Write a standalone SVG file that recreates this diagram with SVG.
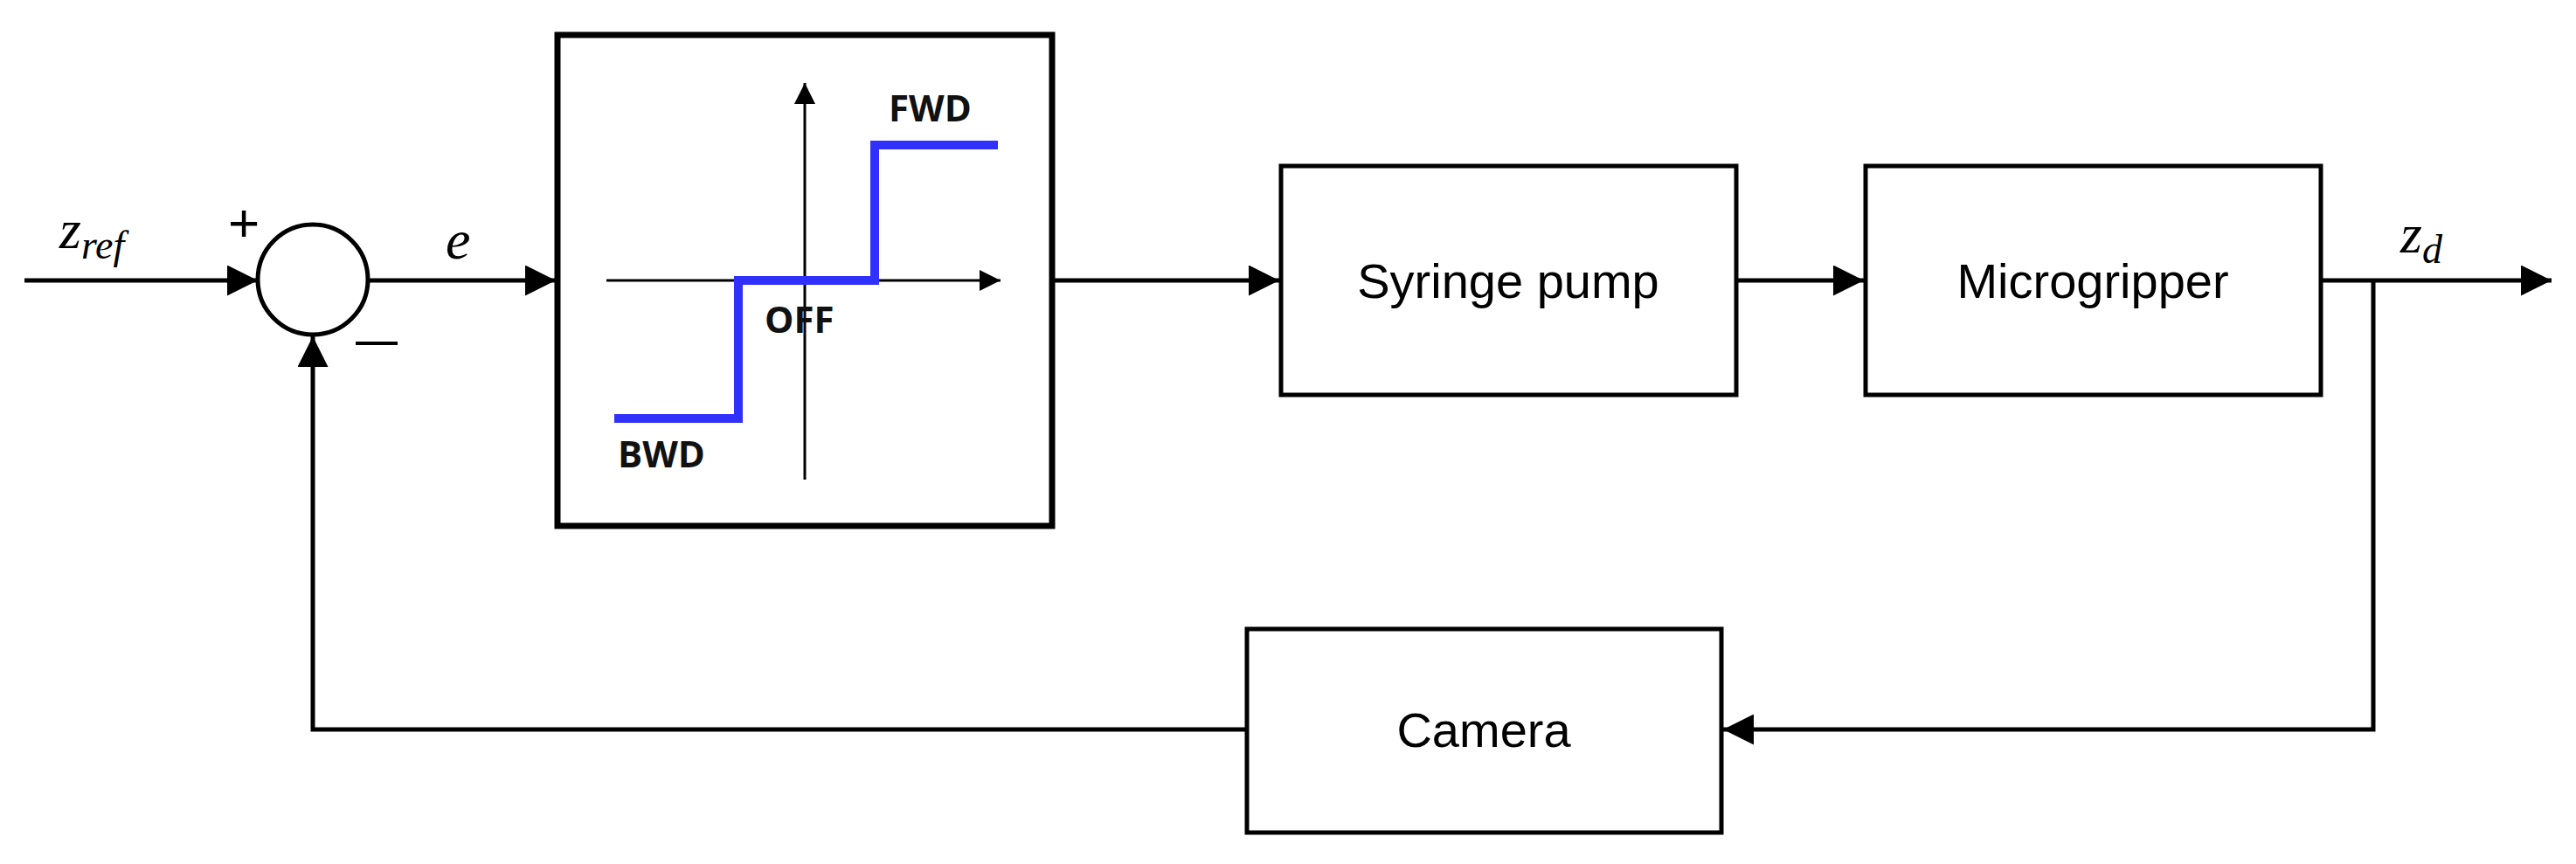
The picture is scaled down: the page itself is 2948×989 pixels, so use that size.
<svg xmlns="http://www.w3.org/2000/svg" width="2948" height="989" viewBox="0 0 2948 989">
<style>
.box{fill:#fff;stroke:#000;stroke-width:5}
.ln{fill:none;stroke:#000;stroke-width:5}
.thin{fill:none;stroke:#000;stroke-width:3}
.lbl{font-family:"Liberation Sans",Arial,sans-serif;font-size:56px;fill:#000;text-anchor:middle}
.b{font-family:"Open Sans","Liberation Sans",sans-serif;font-weight:bold;font-size:42px;fill:#111}
.m{font-family:"Liberation Serif",serif;font-style:italic;fill:#000}
</style>
<defs>
<marker id="ah" viewBox="0 0 10 10" refX="10" refY="5" markerWidth="7" markerHeight="7" markerUnits="strokeWidth" orient="auto"><path d="M0,0L10,5L0,10z" fill="#000"/></marker>
<marker id="as" viewBox="0 0 10 10" refX="10" refY="5" markerWidth="8" markerHeight="8" markerUnits="strokeWidth" orient="auto"><path d="M0,0L10,5L0,10z" fill="#000"/></marker>
</defs>
<g id="connectors">
<line class="ln" x1="28" y1="321" x2="295" y2="321" marker-end="url(#ah)"/>
<line class="ln" x1="421" y1="321" x2="636" y2="321" marker-end="url(#ah)"/>
<line class="ln" x1="1204" y1="321" x2="1464" y2="321" marker-end="url(#ah)"/>
<line class="ln" x1="1987" y1="321" x2="2133" y2="321" marker-end="url(#ah)"/>
<line class="ln" x1="2656" y1="321" x2="2920" y2="321" marker-end="url(#ah)"/>
<polyline class="ln" points="2716,321 2716,835 1972,835" marker-end="url(#ah)"/>
<polyline class="ln" points="1427,835 358,835 358,385" marker-end="url(#ah)"/>
</g>
<g id="sum">
<circle cx="358" cy="320" r="63" fill="#fff" stroke="#000" stroke-width="5"/>
<text x="279" y="276" font-family="Liberation Sans,sans-serif" font-size="62" text-anchor="middle">+</text>
<line x1="407" y1="393" x2="455" y2="393" stroke="#000" stroke-width="4"/>
</g>
<g id="labels">
<text class="m" x="68" y="284" font-size="64">z<tspan font-size="46" dy="12">ref</tspan></text>
<text class="m" x="510" y="296" font-size="64">e</text>
<text class="m" x="2747" y="289" font-size="64">z<tspan font-size="46" dy="12">d</tspan></text>
</g>
<g id="controller">
<rect x="638" y="40" width="566" height="562" fill="#fff" stroke="#000" stroke-width="7"/>
<line class="thin" x1="694" y1="321" x2="1145" y2="321" marker-end="url(#as)"/>
<line class="thin" x1="921" y1="549" x2="921" y2="95" marker-end="url(#as)"/>
<polyline points="703,479 845,479 845,321 1001,321 1001,166 1142,166" fill="none" stroke="#3030ff" stroke-width="10"/>
<text class="b" x="1017" y="139">FWD</text>
<text class="b" x="875" y="381">OFF</text>
<text class="b" x="707" y="535">BWD</text>
</g>
<g id="syringe"><rect class="box" x="1466" y="190" width="521" height="262"/><text class="lbl" x="1726" y="341">Syringe pump</text></g>
<g id="microgripper"><rect class="box" x="2135" y="190" width="521" height="262"/><text class="lbl" x="2395" y="341">Microgripper</text></g>
<g id="camera"><rect class="box" x="1427" y="720" width="543" height="233"/><text class="lbl" x="1698" y="855">Camera</text></g>
</svg>
